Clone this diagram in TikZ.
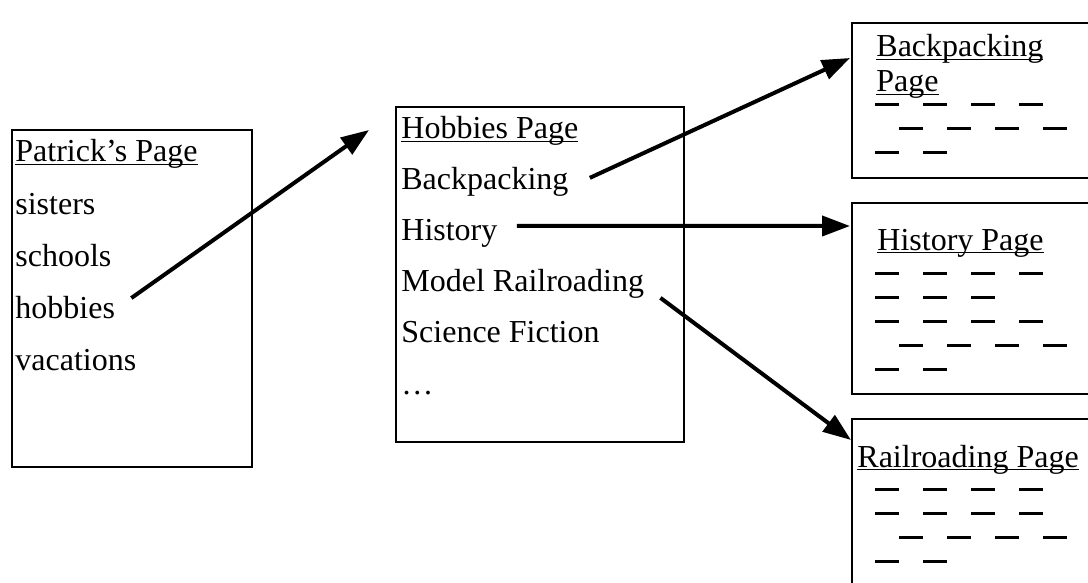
\documentclass[tikz,border=0pt]{standalone}
\usepackage{fontspec}
\setmainfont{Liberation Serif}
\usetikzlibrary{arrows.meta}

% underline at a fixed depth, through the descenders
\newcommand{\pageline}[1]{\setbox0\hbox{#1}\rlap{\rule[-1.6pt]{\wd0}{0.7pt}}\box0}
% one row of placeholder dashes: x, y, count
\newcommand{\dashrow}[3]{\foreach \i in {1,...,#3}{\draw[filler] ({#1+48*(\i-1)},#2) -- ++(24,0);}}

\begin{document}
\begin{tikzpicture}[x=0.5pt,y=-0.5pt,
page/.style={draw,line width=1.2pt},
entry/.style={anchor=base west,inner sep=0pt,font=\fontsize{16}{19}\selectfont},
link/.style={-{Triangle[length=14pt,width=10pt]},line width=2pt},
filler/.style={line width=1.5pt}
]
\useasboundingbox (0,0) rectangle (1088,583);
\clip (0,0) rectangle (1088,583);

% pages
\draw[page] (12,130) rectangle (252,467);
\draw[page] (396,107) rectangle (684,442);
\draw[page] (852,23) rectangle (1100,178);
\draw[page] (852,203) rectangle (1100,394);
\draw[page] (852,419) rectangle (1100,600);

% Patrick's page
\node[entry] (pat) at (15,162) {\pageline{Patrick’s Page}};
\node[entry] (sis) at (15,214) {sisters};
\node[entry] (sch) at (15,266) {schools};
\node[entry] (hob) at (15,318) {hobbies};
\node[entry] (vac) at (15,370) {vacations};

% hobbies page
\node[entry] (hpg) at (401,139) {\pageline{Hobbies Page}};
\node[entry] (bp) at (401,190) {Backpacking};
\node[entry] (hist) at (401,241) {History};
\node[entry] (model) at (401,292) {Model Railroading};
\node[entry] (sf) at (401,343) {Science Fiction};
\node[entry] (more) at (401,394) {…};

% target pages
\node[entry] (bptitle) at (876,57) {\pageline{Backpacking}};
\node[entry] (bptitleb) at (876,92) {\pageline{Page}};
\dashrow{875}{105}{4}
\dashrow{899}{129}{4}
\dashrow{875}{153}{2}

\node[entry] (histtitle) at (877,250) {\pageline{History Page}};
\dashrow{875}{273}{4}
\dashrow{875}{297}{3}
\dashrow{875}{321}{4}
\dashrow{899}{345}{4}
\dashrow{875}{369}{2}

\node[entry] (railtitle) at (857,467) {\pageline{Railroading Page}};
\dashrow{875}{489}{4}
\dashrow{875}{513}{4}
\dashrow{899}{537}{4}
\dashrow{875}{561}{2}

% links
\coordinate (hpgin) at (369,130);
\coordinate (bpin) at (850,58);
\coordinate (histin) at (850,226);
\coordinate (railin) at (851,440);
\draw[link] ([shift={(16,-9)}]hob.east) -- (hpgin);
\draw[link] ([shift={(21,-4.5)}]bp.east) -- (bpin);
\draw[link] ([shift={(19,-8)}]hist.east) -- (histin);
\draw[link] ([shift={(16,13.5)}]model.east) -- (railin);
\end{tikzpicture}
\end{document}
